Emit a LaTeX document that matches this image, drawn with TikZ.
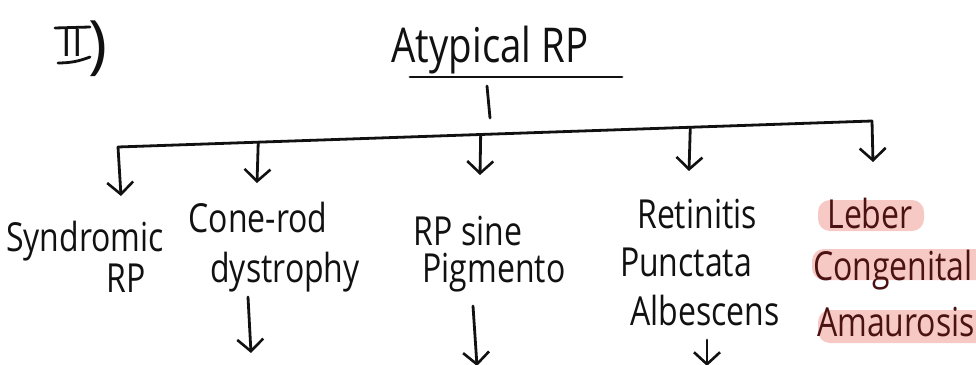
\documentclass[tikz,border=0pt]{standalone}
\usepackage{fontspec}
\setmainfont{Open Sans}
\usetikzlibrary{arrows.meta,calc}
\definecolor{ink}{HTML}{111111}
\definecolor{hilite}{HTML}{F6C9C4}
\definecolor{lcaink}{HTML}{4A1212}
% narrow, hand-lettered proportions
\newcommand{\hw}[1]{\scalebox{0.8}[1]{#1}}
\begin{document}
\begin{tikzpicture}[x=1pt,y=-1pt,
  pen/.style={draw=ink,line width=2.8pt,line cap=round},
  arr/.style={pen,-{Straight Barb[length=12pt,width=26pt,line width=2.6pt]}},
  lbl/.style={anchor=base,inner sep=0pt,text=ink,font=\fontsize{40}{44}\selectfont},
  lca/.style={lbl,text=lcaink},
  hl/.style={fill=hilite,rounded corners=12pt},
]
\useasboundingbox (0,0) rectangle (976,364);

% section number: barred roman two and a closing parenthesis
\node[anchor=base,inner sep=0pt,text=ink,font=\fontsize{38}{40}\selectfont] (num) at (72,56) {II};
\coordinate (numTL) at (55,28);
\coordinate (numTR) at (90,27);
\coordinate (numBL) at (58,63);
\coordinate (numBR) at (90,57);
\draw[pen] (numTL) -- (numTR);
\draw[pen] (numBL) to[bend right=10] (numBR);
\node[anchor=base,inner sep=0pt,text=ink,font=\fontsize{64}{66}\selectfont] (paren) at (98,66) {)};

% title
\node[lbl,font=\fontsize{48}{52}\selectfont] (title) at (490,62) {\hw{Atypical RP}};
\coordinate (ulL) at (410,77);
\coordinate (ulR) at (622,77);
\draw[pen] (ulL) -- (ulR);

% trunk and distribution bar
\coordinate (stubT) at (487,86);
\coordinate (stubB) at (490,118);
\draw[pen] (stubT) -- (stubB);
\coordinate (barL) at (118,147);
\coordinate (barR) at (872,121);
\draw[pen] (barL) -- (barR);

% highlights behind Leber congenital amaurosis
\fill[hl] (818,200) rectangle (924,231);
\fill[hl] (812,249) rectangle (990,280);
\fill[hl] (818,310) rectangle (990,343);

% branch labels
\node[lbl] (syn1) at (85,251) {\hw{Syndromic}};
\node[lbl] (syn2) at (126,292) {\hw{RP}};
\node[lbl] (cr1) at (258,232) {\hw{Cone-rod}};
\node[lbl] (cr2) at (285,282) {\hw{dystrophy}};
\node[lbl] (rs1) at (468,245) {\hw{RP sine}};
\node[lbl] (rs2) at (494,282) {\hw{Pigmento}};
\node[lbl] (rt1) at (697,228) {\hw{Retinitis}};
\node[lbl] (rt2) at (686,276) {\hw{Punctata}};
\node[lbl] (rt3) at (705,325) {\hw{Albescens}};
\node[lca] (lb1) at (870,228) {\hw{Leber}};
\node[lca] (lb2) at (893,280) {\hw{Congenital}};
\node[lca] (lb3) at (896,336) {\hw{Amaurosis}};

% arrows from the bar to each branch
\coordinate (b1) at (barL);
\coordinate (b2) at ($(barL)!0.186!(barR)$);
\coordinate (b3) at ($(barL)!0.481!(barR)$);
\coordinate (b4) at ($(barL)!0.759!(barR)$);
\coordinate (b5) at (barR);
\coordinate (t1) at (121,196);
\coordinate (t2) at (257,183);
\coordinate (t3) at (480,175);
\coordinate (t4) at (689,171);
\coordinate (t5) at (873,162);
\foreach \i in {1,...,5} \draw[arr] (b\i) -- (t\i);

% continuation arrows below three branches
\coordinate (c1s) at (248,297);
\coordinate (c1e) at (251,353);
\coordinate (c2s) at (473,306);
\coordinate (c2e) at (477,366);
\coordinate (c3s) at (707,340);
\coordinate (c3e) at (707,366);
\draw[arr] (c1s) -- (c1e);
\draw[arr] (c2s) -- (c2e);
\draw[arr] (c3s) -- (c3e);
\end{tikzpicture}
\end{document}
